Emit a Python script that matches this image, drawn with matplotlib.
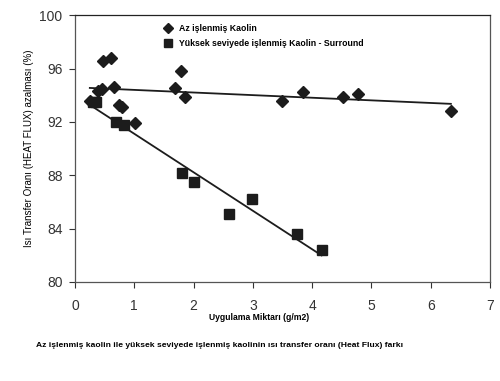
import numpy as np
import matplotlib
matplotlib.use('Agg')
import matplotlib.pyplot as plt

plt.rcParams['font.family'] = ['Liberation Sans', 'DejaVu Sans']

# Az islenmis Kaolin (diamonds)
az_x = [0.25, 0.38, 0.45, 0.48, 0.61, 0.66, 0.75, 0.80, 1.02, 1.69, 1.78, 1.85, 3.49, 3.84, 4.52, 4.78, 6.34]
az_y = [93.6, 94.3, 94.5, 96.6, 96.8, 94.6, 93.3, 93.1, 91.9, 94.55, 95.8, 93.9, 93.6, 94.25, 93.85, 94.1, 92.8]

# Yuksek seviyede islenmis Kaolin - Surround (squares)
yk_x = [0.30, 0.36, 0.69, 0.82, 1.80, 2.00, 2.60, 2.98, 3.75, 4.16]
yk_y = [93.5, 93.5, 92.0, 91.8, 88.2, 87.5, 85.1, 86.2, 83.6, 82.4]

label_az = 'Az işlenmiş Kaolin'
label_yk = 'Yüksek seviyede işlenmiş Kaolin - Surround'
xticks = [0, 1, 2, 3, 4, 5, 6, 7]
yticks = [80, 84, 88, 92, 96, 100]

col = '#1c1c1c'

fig = plt.figure(figsize=(5, 3.81), dpi=100)
ax = fig.add_axes([0.15, 0.26, 0.83, 0.70])

ax.plot(az_x, az_y, 'D', color=col, markersize=6, label=label_az)
ax.plot(yk_x, yk_y, 's', color=col, markersize=7, label=label_yk)

# linear trend lines over each data range
for xs, ys in [(az_x, az_y), (yk_x, yk_y)]:
	k, m = np.polyfit(xs, ys, 1)
	xx = np.array([min(xs), max(xs)])
	ax.plot(xx, k * xx + m, color=col, linewidth=1.3)

ax.set_xlim(0, 7)
ax.set_ylim(80, 100)
ax.set_xticks(xticks)
ax.set_yticks(yticks)
ax.tick_params(labelsize=10, colors='#333333', length=4, width=0.8)
ax.tick_params(axis='y', pad=5)
ax.tick_params(axis='x', pad=8)
for s in ax.spines.values():
	s.set_color('#555555')
	s.set_linewidth(0.9)
ax.spines['top'].set_color('#222222')

ax.set_xlabel('Uygulama Miktarı (g/m2)', fontsize=6.2, fontweight='bold')
ax.xaxis.set_label_coords(0.443, -0.115)
ax.set_ylabel('Isı Transfer Oranı (HEAT FLUX) azalması (%)', fontsize=7, labelpad=4)

ax.legend(loc='upper left', bbox_to_anchor=(0.31, 0.958), bbox_transform=fig.transFigure,
	frameon=False, prop={'size': 6.3, 'weight': 'bold'}, handletextpad=0.6,
	labelspacing=0.75, handlelength=1.2, markerscale=0.85)

fig.text(0.072, 0.088, 'Az işlenmiş kaolin ile yüksek seviyede işlenmiş kaolinin ısı transfer oranı (Heat Flux) farkı',
	fontsize=6.1, fontweight='bold')

fig.savefig('out.png', dpi=100)
